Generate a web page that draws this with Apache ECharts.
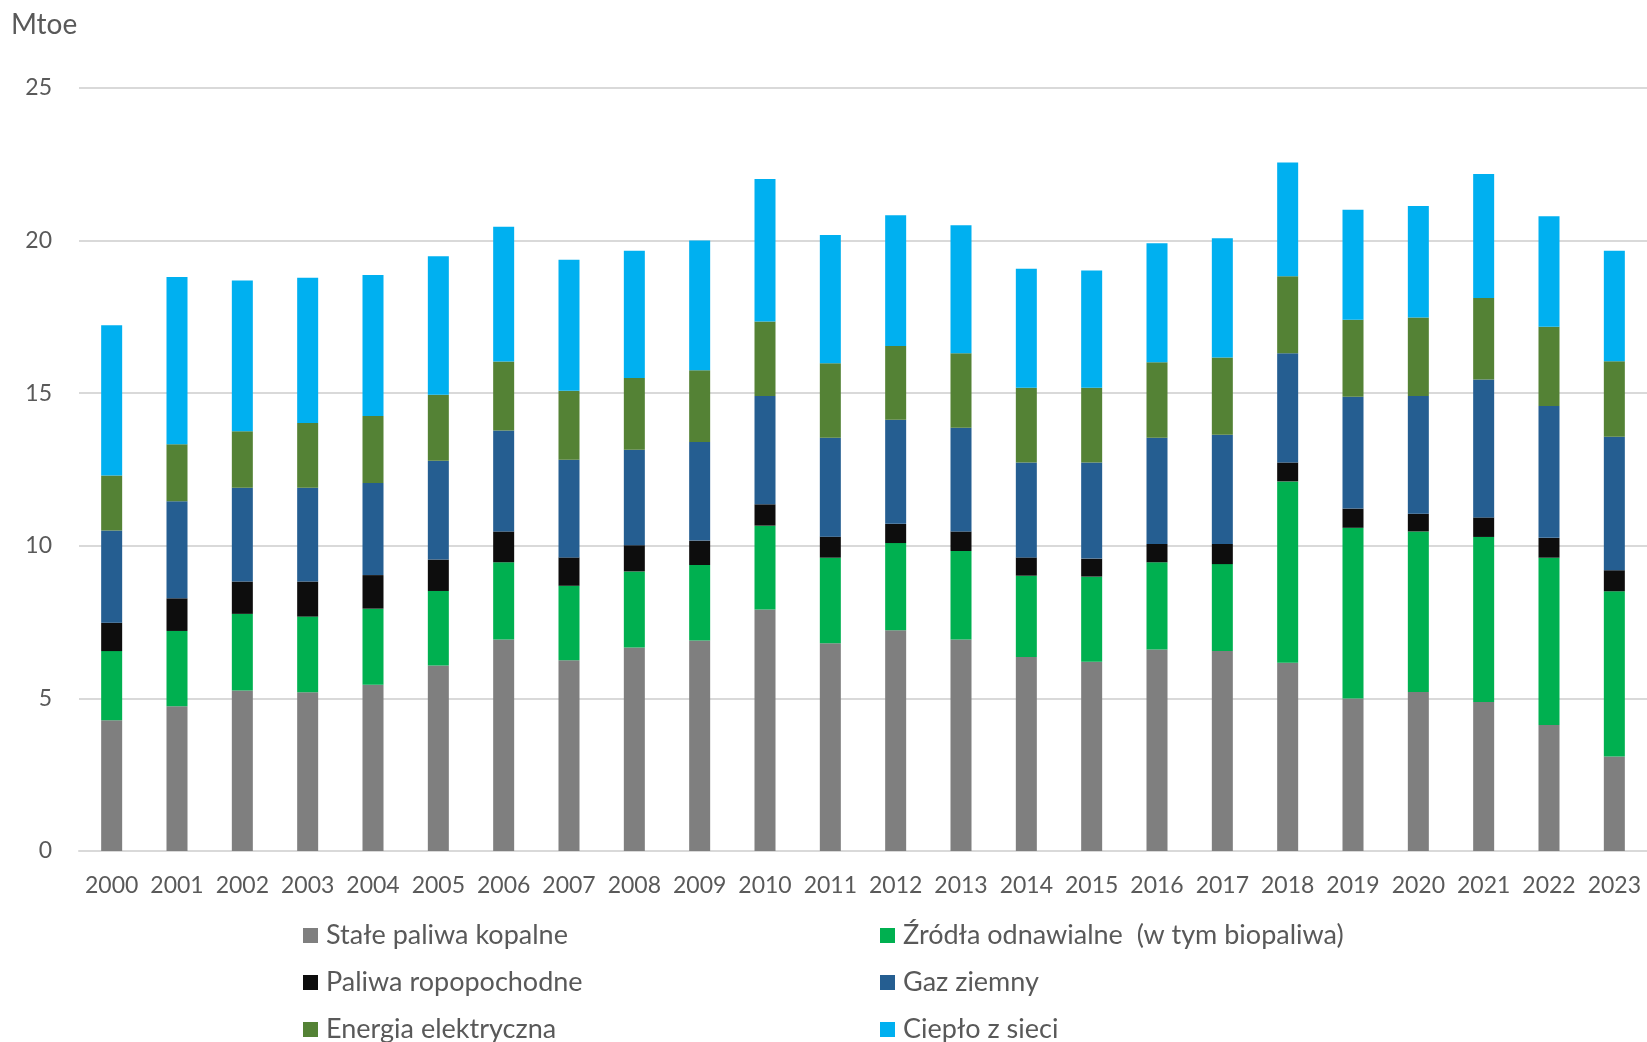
<!DOCTYPE html>
<html lang="pl">
<head>
    <meta charset="utf-8">
    <title>Mtoe</title>
    <script src="https://cdn.jsdelivr.net/npm/echarts@6/dist/echarts.min.js"></script>
    <style>
        html, body { margin: 0; padding: 0; background: #fff; }
    </style>
</head>
<body>
<div id="main" style="width:1647px;height:1042px"></div>
<script type="text/javascript">
    // lata
    var years = ['2000', '2001', '2002', '2003', '2004', '2005', '2006', '2007', '2008', '2009', '2010', '2011',
        '2012', '2013', '2014', '2015', '2016', '2017', '2018', '2019', '2020', '2021', '2022', '2023'];

    // nazwy serii (kolejnosc stosu od dołu)
    var seriesNames = ['Stałe paliwa kopalne', 'Źródła odnawialne  (w tym biopaliwa)', 'Paliwa ropopochodne',
        'Gaz ziemny', 'Energia elektryczna', 'Ciepło z sieci'];

    // wartości w Mtoe
    var staleKopalne = [4.28, 4.74, 5.26, 5.20, 5.45, 6.08, 6.93, 6.25, 6.67, 6.90, 7.91, 6.81,
        7.23, 6.93, 6.36, 6.20, 6.60, 6.55, 6.17, 5.00, 5.21, 4.88, 4.13, 3.10];
    var odnawialne = [2.27, 2.47, 2.51, 2.48, 2.49, 2.44, 2.53, 2.44, 2.49, 2.47, 2.75, 2.80,
        2.86, 2.90, 2.66, 2.79, 2.86, 2.85, 5.94, 5.59, 5.26, 5.41, 5.48, 5.41];
    var ropopochodne = [0.93, 1.07, 1.06, 1.15, 1.10, 1.03, 1.01, 0.93, 0.86, 0.80, 0.70, 0.69,
        0.63, 0.64, 0.60, 0.59, 0.60, 0.66, 0.62, 0.63, 0.58, 0.64, 0.65, 0.69];
    var gazZiemny = [3.02, 3.18, 3.07, 3.07, 3.02, 3.24, 3.31, 3.20, 3.13, 3.23, 3.55, 3.24,
        3.41, 3.40, 3.11, 3.15, 3.48, 3.58, 3.58, 3.66, 3.86, 4.52, 4.32, 4.37];
    var energiaElektryczna = [1.80, 1.87, 1.85, 2.12, 2.19, 2.16, 2.26, 2.26, 2.35, 2.35, 2.44, 2.44,
        2.42, 2.44, 2.45, 2.45, 2.47, 2.53, 2.52, 2.53, 2.57, 2.67, 2.60, 2.48];
    var cieploSieci = [4.93, 5.48, 4.94, 4.76, 4.62, 4.54, 4.41, 4.29, 4.17, 4.25, 4.67, 4.20,
        4.28, 4.19, 3.90, 3.84, 3.90, 3.91, 3.73, 3.60, 3.65, 4.06, 3.62, 3.62];

    var seriesData = [staleKopalne, odnawialne, ropopochodne, gazZiemny, energiaElektryczna, cieploSieci];
    var colors = ['#7f7f7f', '#00b050', '#0d0d0d', '#255e91', '#548235', '#00b0f0'];

    var textColor = '#595959';
    var fontName = 'Lato';

    var myChart = echarts.init(document.getElementById('main'));

    // legenda: dwie kolumny, trzy wiersze
    var legendPos = [[298, 917], [875, 917], [298, 964], [875, 964], [298, 1011], [875, 1011]];
    var legends = seriesNames.map(function (name, i) {
        return {
            data: [name],
            left: legendPos[i][0],
            top: legendPos[i][1],
            itemWidth: 15,
            itemHeight: 15,
            icon: 'rect',
            itemGap: 6,
            textStyle: {
                color: textColor,
                fontSize: 27,
                fontFamily: fontName,
                padding: [0, 0, 0, 3]
            }
        };
    });

    var series = seriesNames.map(function (name, i) {
        return {
            name: name,
            type: 'bar',
            stack: 'total',
            barWidth: 21,
            itemStyle: {color: colors[i]},
            data: seriesData[i]
        };
    });

    var option = {
        animation: false,
        textStyle: {fontFamily: fontName},
        title: {
            text: 'Mtoe',
            left: 6,
            top: 6,
            textStyle: {
                color: textColor,
                fontSize: 28,
                fontWeight: 'normal',
                fontFamily: fontName
            }
        },
        color: colors,
        legend: legends,
        grid: {
            left: 79,
            top: 88,
            width: 1572,
            bottom: 191,
            containLabel: false
        },
        xAxis: {
            type: 'category',
            data: years,
            axisTick: {show: false},
            axisLine: {lineStyle: {color: '#d9d9d9', width: 2}},
            axisLabel: {
                color: textColor,
                fontSize: 23,
                margin: 23,
                interval: 0
            }
        },
        yAxis: {
            type: 'value',
            min: 0,
            max: 25,
            interval: 5,
            axisLine: {show: false},
            axisTick: {show: false},
            splitLine: {lineStyle: {color: '#d9d9d9', width: 2}},
            axisLabel: {
                color: textColor,
                fontSize: 23,
                margin: 27
            }
        },
        series: series
    };
    myChart.setOption(option);
</script>
</body>
</html>
